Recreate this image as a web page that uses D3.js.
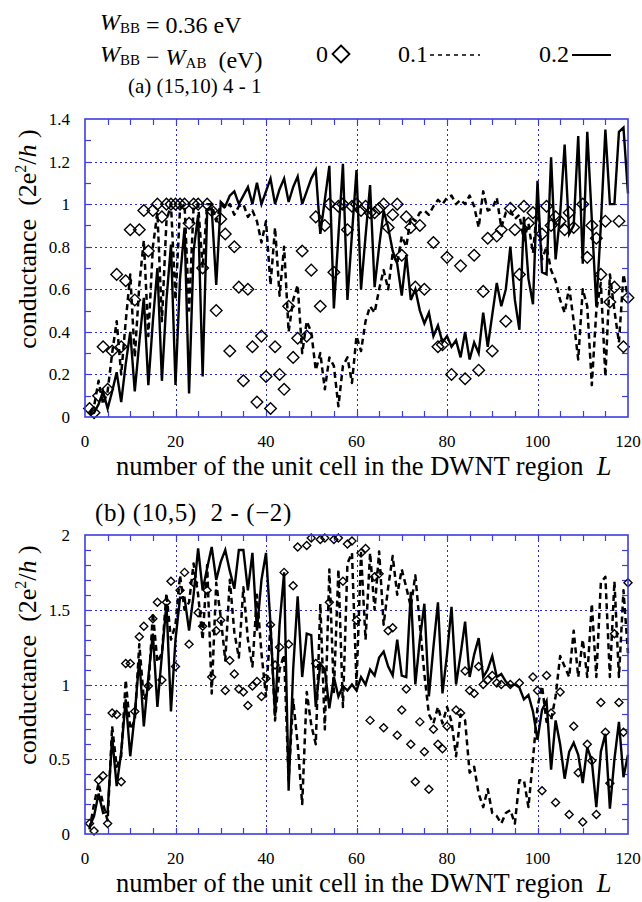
<!DOCTYPE html>
<html>
<head>
<meta charset="utf-8">
<script src="https://cdn.jsdelivr.net/npm/d3@7"></script>
<style>
  body { margin: 0; background: #fff; }
  svg text { font-family: "Liberation Serif", "Times New Roman", serif; fill: #000; white-space: pre; }
</style>
</head>
<body>
<svg id="chart" width="642" height="902" font-family="Liberation Serif, serif"></svg>
<script>
// Unit-cell index L along the DWNT region
const cells = d3.range(1, 121);

// (a) (15,10) 4 - 1 : conductance for W_BB - W_AB = 0, 0.1, 0.2 eV
const aSolid = [
  0.01,0.02,0.06,0.12,0.04,0.12,0.21,0.07,0.25,0.40,
  0.12,0.35,0.56,0.15,0.45,0.70,0.17,0.55,0.81,0.15,
  0.65,0.89,0.11,0.78,0.95,0.19,0.97,0.98,0.62,1.01,
  0.99,1.04,1.06,1.00,1.04,1.08,1.00,1.10,1.00,1.06,
  1.12,1.00,1.07,1.12,1.01,1.08,1.13,1.00,1.06,1.12,
  1.16,0.86,1.02,1.18,0.51,0.85,1.19,0.55,0.86,1.16,
  0.60,0.85,1.09,0.61,0.80,0.97,0.89,0.78,0.72,0.57,
  0.76,0.55,0.60,0.50,0.44,0.49,0.38,0.43,0.35,0.38,
  0.33,0.36,0.28,0.40,0.27,0.35,0.30,0.49,0.33,0.48,
  0.63,0.52,0.60,0.80,0.55,0.41,0.94,0.65,0.53,1.11,
  0.68,0.67,1.22,0.74,0.95,1.28,0.86,0.90,1.32,0.72,
  1.34,0.93,0.52,0.90,1.35,1.00,1.00,1.34,1.36,1.05
];
const aDashed = [
  0.02,0.05,0.17,0.06,0.12,0.30,0.45,0.20,0.45,0.67,
  0.28,0.62,0.83,0.38,0.80,0.96,0.45,0.92,1.00,0.55,
  0.98,1.00,0.50,0.99,1.00,0.70,1.00,1.00,0.92,1.00,
  0.98,1.00,0.95,0.99,1.00,0.94,0.97,0.92,0.82,0.92,
  0.62,0.89,0.57,0.80,0.40,0.55,0.62,0.30,0.45,0.40,
  0.22,0.30,0.13,0.28,0.24,0.05,0.24,0.28,0.16,0.38,
  0.31,0.45,0.52,0.49,0.60,0.69,0.60,0.77,0.72,0.85,
  0.80,0.94,0.92,0.96,0.97,0.95,0.99,1.02,1.00,1.03,
  1.04,1.00,1.02,1.00,1.04,0.99,0.89,1.06,0.97,0.98,
  1.03,0.89,0.96,0.97,0.93,0.95,0.83,0.91,0.77,1.00,
  0.74,0.80,0.69,0.64,0.55,0.49,0.61,0.45,0.27,0.60,
  0.52,0.15,0.50,0.63,0.19,0.67,0.50,0.35,0.67,0.56
];
const aDiamond = [
  0.04,0.02,0.10,0.33,0.13,0.31,0.67,0.33,0.64,0.88,
  0.55,0.88,0.97,0.78,0.97,1.00,0.94,1.00,1.00,1.00,
  1.00,1.00,0.91,1.00,1.00,0.70,1.00,0.97,0.50,0.93,
  0.86,0.31,0.80,0.61,0.17,0.60,0.33,0.07,0.38,0.19,
  0.04,0.33,0.20,0.13,0.52,0.28,0.37,0.78,0.38,0.69,
  0.94,0.52,0.90,1.00,0.68,0.99,1.00,0.88,0.99,1.00,
  0.97,0.99,0.96,0.96,0.98,1.00,0.89,0.95,1.00,0.76,
  0.94,0.89,0.61,0.90,0.60,null,0.82,0.33,0.34,0.75,
  0.20,null,0.71,0.18,null,0.76,0.22,0.59,0.84,0.31,
  0.85,0.88,0.45,0.98,0.88,0.67,0.99,0.91,0.96,null,
  0.86,0.99,0.90,0.94,0.92,0.88,0.96,0.89,null,1.00,
  0.75,0.90,0.84,0.67,0.92,0.54,0.61,0.92,0.33,0.56
];

// (b) (10,5) 2 - (-2)
const bSolid = [
  0.05,0.12,0.27,0.14,0.15,0.65,0.32,0.55,0.90,0.52,
  0.80,1.17,0.72,1.05,1.34,0.85,1.20,1.54,0.82,1.30,
  1.58,1.58,1.36,1.60,1.91,1.63,1.78,1.92,1.70,1.82,
  1.90,1.76,1.64,1.90,1.90,1.63,1.88,1.36,1.70,1.88,
  1.40,0.79,1.40,1.75,0.29,1.10,1.59,1.05,1.34,1.33,
  0.85,1.14,1.10,0.84,1.05,0.92,0.99,0.96,1.00,0.96,
  1.05,1.00,1.10,1.06,1.18,1.22,1.12,1.06,1.30,1.06,
  1.05,1.62,1.00,1.30,1.54,0.92,1.25,1.55,0.94,1.20,
  1.52,1.00,1.20,1.42,1.05,1.20,1.31,1.05,1.10,1.19,
  1.05,1.07,1.02,0.99,1.00,0.98,0.90,0.93,0.82,0.63,
  0.83,0.89,0.43,0.76,0.60,0.37,0.55,0.61,0.53,0.34,
  0.58,0.49,0.18,0.55,0.67,0.17,0.50,0.75,0.38,0.53
];
const bDashed = [
  0.03,0.20,0.34,0.20,0.09,0.72,0.45,0.52,1.03,0.70,
  0.76,1.27,0.90,0.96,1.48,1.15,1.21,1.61,1.30,1.40,
  1.73,1.50,1.55,1.81,1.60,1.30,1.80,0.94,1.68,1.45,
  1.16,1.70,1.35,1.18,1.65,1.30,1.12,1.60,1.21,0.92,
  1.40,0.76,1.10,1.20,0.36,0.90,0.60,0.20,0.95,0.73,
  0.60,1.54,0.70,1.77,0.95,1.77,0.85,1.81,1.88,1.00,
  1.88,1.30,1.88,1.50,1.89,1.40,1.65,1.86,1.60,1.77,
  1.65,1.52,1.73,1.40,1.07,0.80,0.74,0.85,0.74,0.85,
  0.75,0.52,0.80,0.76,0.41,0.45,0.27,0.18,0.30,0.14,
  0.12,0.07,0.14,0.16,0.07,0.36,0.36,0.18,0.50,0.85,
  0.99,0.75,0.76,0.92,1.19,1.12,1.05,1.36,1.05,1.30,
  1.05,1.54,1.05,1.68,1.72,1.05,1.69,1.05,1.63,1.21
];
const bDiamond = [
  0.07,0.02,0.36,0.39,0.07,0.81,0.80,0.35,1.14,1.14,
  0.82,1.32,1.39,0.99,1.44,1.55,1.03,1.55,1.69,1.12,
  1.63,1.75,1.27,1.68,1.48,1.39,1.63,1.05,1.36,1.43,
  0.96,1.16,1.07,0.97,0.95,0.86,0.99,1.02,0.92,1.04,
  1.40,1.13,1.25,1.75,1.27,1.66,1.92,null,1.93,1.98,
  1.14,1.97,1.98,1.55,1.97,1.98,1.69,1.94,1.96,1.43,
  1.88,1.91,0.76,1.72,1.74,0.71,1.36,1.38,0.66,0.83,
  0.97,0.60,0.35,0.75,0.55,0.30,0.70,0.60,0.57,0.72,
  null,0.83,0.81,1.09,0.96,0.94,1.12,1.00,1.03,1.06,
  1.01,1.00,null,1.00,null,1.01,null,null,1.05,0.96,
  0.29,1.06,0.81,0.21,0.95,null,0.13,0.72,0.41,0.08,
  0.60,0.49,0.13,0.88,0.68,0.34,1.34,0.88,0.68,1.68
];

// Axis ticks
const xTickLabels = [0, 20, 40, 60, 80, 100, 120];
const aYTickLabels = [0, 0.2, 0.4, 0.6, 0.8, 1, 1.2, 1.4];
const bYTickLabels = [0, 0.5, 1, 1.5, 2];

const BLUE = "#3c3ce0";
const GRID = "#2626e8";

const svg = d3.select("#chart");
const x = d3.scaleLinear().domain([0, 120]).range([85, 628]);
const crisp = v => Math.round(v) + 0.5;

function diamondPath(r) {
  return `M0,${-r}L${r},0L0,${r}L${-r},0Z`;
}

function drawPanel(o) {
  const y = d3.scaleLinear().domain([0, o.yMax]).range([o.bottom, o.top]);
  const g = svg.append("g");
  const [xl, xr] = x.range();

  // dotted grid at the labelled values
  g.selectAll("line.gx").data(xTickLabels.slice(1, -1)).join("line")
    .attr("x1", d => crisp(x(d))).attr("x2", d => crisp(x(d)))
    .attr("y1", o.top).attr("y2", o.bottom)
    .attr("stroke", GRID).attr("stroke-width", 1).attr("stroke-dasharray", "2,3");
  g.selectAll("line.gy").data(o.yLabels.slice(1, -1)).join("line")
    .attr("x1", xl).attr("x2", xr)
    .attr("y1", d => crisp(y(d))).attr("y2", d => crisp(y(d)))
    .attr("stroke", GRID).attr("stroke-width", 1).attr("stroke-dasharray", "2,3");

  // inward ticks on all four sides
  const xt = d3.range(5, 120, 5);
  const yt = d3.range(1, Math.round(o.yMax / o.minor)).map(i => i * o.minor);
  const tl = 6;
  xt.forEach(v => {
    g.append("line").attr("x1", crisp(x(v))).attr("x2", crisp(x(v))).attr("y1", o.bottom).attr("y2", o.bottom - tl)
      .attr("stroke", BLUE).attr("stroke-width", 1.2);
    g.append("line").attr("x1", crisp(x(v))).attr("x2", crisp(x(v))).attr("y1", o.top).attr("y2", o.top + tl)
      .attr("stroke", BLUE).attr("stroke-width", 1.2);
  });
  yt.forEach(v => {
    g.append("line").attr("x1", xl).attr("x2", xl + tl).attr("y1", crisp(y(v))).attr("y2", crisp(y(v)))
      .attr("stroke", BLUE).attr("stroke-width", 1.2);
    g.append("line").attr("x1", xr).attr("x2", xr - tl).attr("y1", crisp(y(v))).attr("y2", crisp(y(v)))
      .attr("stroke", BLUE).attr("stroke-width", 1.2);
  });

  const line = d3.line().defined(d => d[1] != null).x(d => x(d[0])).y(d => y(d[1]));

  g.append("path").datum(cells.map((c, i) => [c, o.dashed[i]]))
    .attr("d", line).attr("fill", "none").attr("stroke", "#000")
    .attr("stroke-width", 2.5).attr("stroke-dasharray", "6,4").attr("stroke-linejoin", "round");
  g.append("path").datum(cells.map((c, i) => [c, o.solid[i]]))
    .attr("d", line).attr("fill", "none").attr("stroke", "#000")
    .attr("stroke-width", 2.4).attr("stroke-linejoin", "miter").attr("stroke-miterlimit", 4);

  g.selectAll("path.dia").data(cells.map((c, i) => [c, o.diamond[i]]).filter(d => d[1] != null))
    .join("path").attr("class", "dia")
    .attr("transform", d => `translate(${x(d[0])},${y(d[1])})`)
    .attr("d", diamondPath(o.diaR))
    .attr("fill", "none").attr("stroke", "#000").attr("stroke-width", 1.4);

  // frame
  g.append("rect").attr("x", xl).attr("y", o.top).attr("width", xr - xl).attr("height", o.bottom - o.top)
    .attr("fill", "none").attr("stroke", BLUE).attr("stroke-width", 1.6);

  // tick labels
  g.selectAll("text.yl").data(o.yLabels).join("text")
    .attr("x", 70).attr("y", d => y(d) + 6)
    .attr("text-anchor", "end").attr("font-size", 17).text(d => d);
  g.selectAll("text.xl").data(xTickLabels).join("text")
    .attr("x", d => x(d)).attr("y", o.bottom + 30)
    .attr("text-anchor", "middle").attr("font-size", 17).text(d => d);

  // axis titles
  const xt2 = g.append("text").attr("x", 116).attr("y", o.bottom + 58)
    .attr("text-anchor", "start").attr("font-size", 26.5);
  xt2.append("tspan").text("number of the unit cell in the DWNT region  ");
  xt2.append("tspan").attr("font-style", "italic").text("L");

  const yt2 = g.append("text").attr("transform", `translate(36,${o.top + 120}) rotate(-90)`)
    .attr("text-anchor", "middle").attr("font-size", 26);
  yt2.append("tspan").text("conductance  (2e");
  yt2.append("tspan").attr("font-size", 16).attr("dy", -10).text("2");
  yt2.append("tspan").attr("dy", 10).text("/");
  yt2.append("tspan").attr("font-style", "italic").text("h");
  yt2.append("tspan").text(" )");

  // panel caption
  g.append("text").attr("x", o.capX).attr("y", o.capY).attr("font-size", o.capSize)
    .attr("letter-spacing", o.capSpacing).text(o.caption);
}

// header: parameter and legend
function wLabel(sel, sub) {
  sel.append("tspan").attr("font-style", "italic").text("W");
  sel.append("tspan").attr("font-size", 15).attr("dy", 3).text(sub);
  sel.append("tspan").attr("dy", -3).text("");
}
const h1 = svg.append("text").attr("x", 100).attr("y", 30).attr("font-size", 24);
wLabel(h1, "BB");
h1.append("tspan").text(" = 0.36 eV");

const h2 = svg.append("text").attr("x", 100).attr("y", 62).attr("font-size", 24);
wLabel(h2, "BB");
h2.append("tspan").text(" \u2212 ");
wLabel(h2, "AB");
h2.append("tspan").text("  (eV)");

svg.append("text").attr("x", 316).attr("y", 62).attr("font-size", 24).text("0");
svg.append("path").attr("transform", "translate(341,54)").attr("d", diamondPath(8.5))
  .attr("fill", "none").attr("stroke", "#000").attr("stroke-width", 1.8);
svg.append("text").attr("x", 398).attr("y", 62).attr("font-size", 24).text("0.1");
svg.append("line").attr("x1", 430).attr("x2", 480).attr("y1", 55).attr("y2", 55)
  .attr("stroke", "#000").attr("stroke-width", 1.6).attr("stroke-dasharray", "4,4");
svg.append("text").attr("x", 539).attr("y", 62).attr("font-size", 24).text("0.2");
svg.append("line").attr("x1", 572).attr("x2", 611).attr("y1", 55).attr("y2", 55)
  .attr("stroke", "#000").attr("stroke-width", 1.8);

drawPanel({
  top: 119, bottom: 417, yMax: 1.4, minor: 0.1, yLabels: aYTickLabels,
  solid: aSolid, dashed: aDashed, diamond: aDiamond, diaR: 5.8,
  caption: "(a) (15,10) 4 - 1", capX: 128, capY: 93, capSize: 21, capSpacing: 0
});
drawPanel({
  top: 535, bottom: 834, yMax: 2, minor: 0.1, yLabels: bYTickLabels,
  solid: bSolid, dashed: bDashed, diamond: bDiamond, diaR: 4,
  caption: "(b) (10,5)  2 - (\u22122)", capX: 95, capY: 521, capSize: 25, capSpacing: 0.6
});
</script>
</body>
</html>
